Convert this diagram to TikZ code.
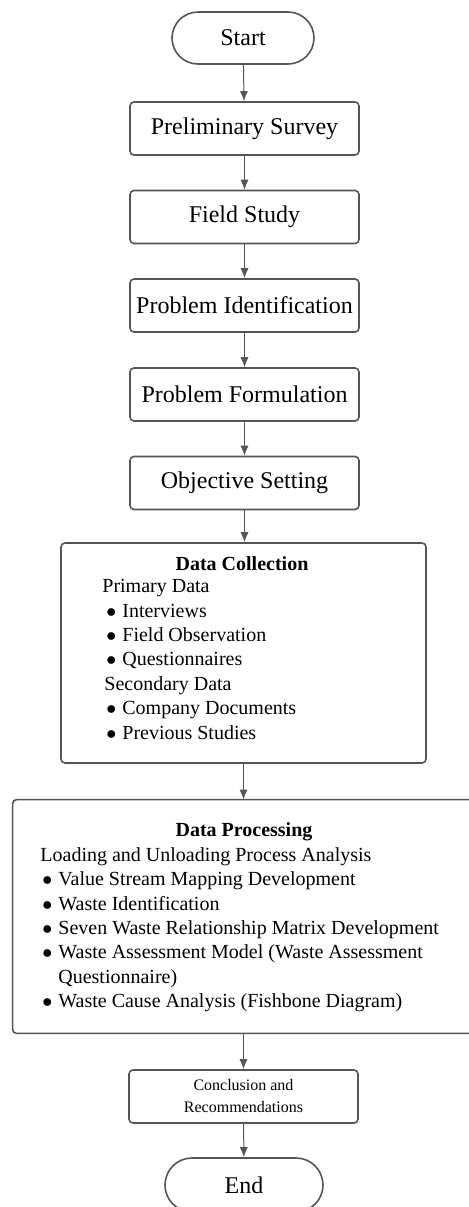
\documentclass[tikz,border=0pt]{standalone}
\usepackage{fontspec}
\setmainfont{Liberation Serif}
\usetikzlibrary{arrows.meta,shapes.misc}
\definecolor{edge}{RGB}{85,85,85}
% bullet markers for the two lists
\newcommand\collbul{\makebox[10pt][l]{\hspace{2pt}$\bullet$}}
\newcommand\procbul{\makebox[9pt][l]{\hspace{1pt}$\bullet$}}
\begin{document}
\begin{tikzpicture}[x=0.5pt,y=-0.5pt,
  stepbox/.style={draw=edge,line width=0.8pt,rounded corners=2pt,
    minimum width=114.5pt,minimum height=26.5pt,inner sep=0pt,
    font=\fontsize{12}{14}\selectfont},
  bigbox/.style={draw=edge,line width=0.8pt,rounded corners=2pt,inner sep=0pt},
  outline/.style={draw=edge,line width=0.8pt,rounded corners=2pt},
  term/.style={draw=edge,line width=0.8pt,rounded rectangle,
    minimum width=71pt,minimum height=26pt,inner sep=0pt,
    font=\fontsize{12}{14}\selectfont},
  boxtitle/.style={inner sep=0pt,font=\fontsize{10}{12.2}\selectfont\bfseries},
  boxlist/.style={inner sep=0pt,anchor=north west,align=left,
    font=\fontsize{10}{12.2}\selectfont},
  flow/.style={draw=edge,line width=0.5pt,-{Latex[length=5pt,width=4pt]}}
]
\useasboundingbox (0,0) rectangle (468,1207);

\node[term] (start) at (243,38) {Start};
\node[stepbox] (survey) at (244.5,128.5) {Preliminary Survey};
\node[stepbox] (field) at (244.5,217) {Field Study};
\node[stepbox] (ident) at (244.5,305.5) {Problem Identification};
\node[stepbox] (formul) at (244.5,394.5) {Problem Formulation};
\node[stepbox] (objective) at (244.5,483) {Objective Setting};

\node[bigbox,minimum width=182.5pt,minimum height=110pt] (collect) at (243.5,653) {};
\node[boxtitle] (collecttitle) at (242,564) {Data Collection};
\node[boxlist] (collectlist) at (102,579) {Primary Data\\
  \collbul Interviews\\
  \collbul Field Observation\\
  \collbul Questionnaires\\
  \hspace*{1pt}Secondary Data\\
  \collbul Company Documents\\
  \collbul Previous Studies};

% the processing box runs on past the right-hand edge, so its right side is not drawn
\node[inner sep=0pt,minimum width=242pt,minimum height=116.5pt] (process) at (255,916.5) {};
\draw[outline] (process.north east) -- (process.north west)
  -- (process.south west) -- (process.south east);
\node[boxtitle] (processtitle) at (244,832) {Data Processing};
\node[boxlist] (processlist) at (40,847) {Loading and Unloading Process Analysis\\
  \procbul Value Stream Mapping Development\\
  \procbul Waste Identification\\
  \procbul Seven Waste Relationship Matrix Development\\
  \procbul Waste Assessment Model (Waste Assessment\\
  \hspace*{9pt}Questionnaire)\\
  \procbul Waste Cause Analysis (Fishbone Diagram)};

\node[stepbox,align=center,font=\fontsize{8}{11}\selectfont] (conclude) at (243.5,1096.5)
  {Conclusion and\\Recommendations};
\node[term,minimum width=79pt,minimum height=27pt] (finish) at (244,1185) {End};

\draw[flow] (start) -- (survey);
\draw[flow] (survey) -- (field);
\draw[flow] (field) -- (ident);
\draw[flow] (ident) -- (formul);
\draw[flow] (formul) -- (objective);
\draw[flow] (objective.south) -- (objective.south |- collect.north);
\draw[flow] (collect.south) -- (collect.south |- process.north);
\draw[flow] (conclude.north |- process.south) -- (conclude.north);
\draw[flow] (conclude) -- (finish);
\end{tikzpicture}
\end{document}
